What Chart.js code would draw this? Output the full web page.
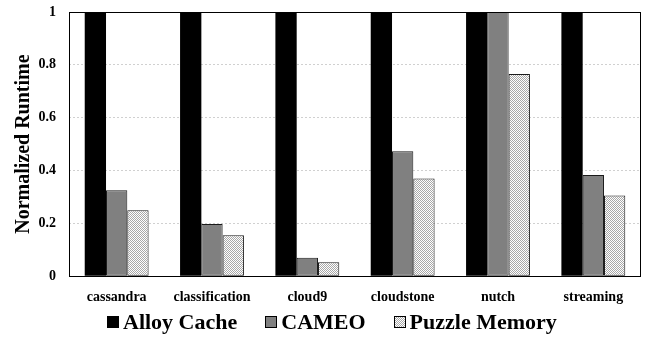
<!DOCTYPE html>
<html>
<head>
<meta charset="utf-8">
<script src="https://cdn.jsdelivr.net/npm/chart.js@4.4.0/dist/chart.umd.min.js"></script>
<style>
  html, body { margin: 0; padding: 0; background: #fff; }
  #wrap { position: relative; width: 650px; height: 337px; }
  #legend {
    position: absolute; left: 107px; top: 311px;
    display: flex; align-items: center;
    font-family: "Liberation Serif", "Times New Roman", serif;
    font-weight: bold; font-size: 22px; line-height: 22px; color: #000;
  }
  .item { display: flex; align-items: center; margin-right: 28px; }
  .sw { width: 12px; height: 12px; border: 1px solid #000; margin-right: 4px; box-sizing: border-box; }
</style>
</head>
<body>
<div id="wrap">
  <canvas id="c" width="650" height="337"></canvas>
  <div id="legend"></div>
</div>
<script>
const categories = ["cassandra", "classification", "cloud9", "cloudstone", "nutch", "streaming"];
const alloyCache = [1, 1, 1, 1, 1, 1];
const cameo = [0.325, 0.198, 0.07, 0.473, 1, 0.383];
const puzzleMemory = [0.25, 0.155, 0.053, 0.37, 0.765, 0.305];
const yTicks = [0, 0.2, 0.4, 0.6, 0.8, 1];

// fine dithered fill for the third series
function ditherPattern() {
  const p = document.createElement('canvas');
  p.width = 2; p.height = 2;
  const g = p.getContext('2d');
  g.fillStyle = '#ffffff'; g.fillRect(0, 0, 2, 2);
  g.fillStyle = '#a8a8a8'; g.fillRect(0, 0, 1, 1); g.fillRect(1, 1, 1, 1);
  return document.getElementById('c').getContext('2d').createPattern(p, 'repeat');
}
const dither = ditherPattern();

const seriesStyle = [
  { label: "Alloy Cache", data: alloyCache, backgroundColor: '#000000', borderColor: '#000000', borderWidth: 0, swatch: '#000' },
  { label: "CAMEO", data: cameo, backgroundColor: '#808080', borderColor: '#1a1a1a', borderWidth: 1, swatch: '#808080' },
  { label: "Puzzle Memory", data: puzzleMemory, backgroundColor: dither, borderColor: '#1a1a1a', borderWidth: 1,
    swatch: 'repeating-conic-gradient(#a8a8a8 0 25%, #fff 0 50%) 0 0/2px 2px' }
];

const frame = {
  id: 'frame',
  afterDatasetsDraw(chart) {
    const a = chart.chartArea, ctx = chart.ctx;
    ctx.save();
    ctx.strokeStyle = '#000';
    ctx.lineWidth = 1;
    ctx.strokeRect(Math.round(a.left) + 0.5, Math.round(a.top) + 0.5,
                   Math.round(a.right - a.left) - 1, Math.round(a.bottom - a.top));
    ctx.restore();
  }
};

const serif = "'Liberation Serif', 'Times New Roman', serif";

new Chart(document.getElementById('c'), {
  type: 'bar',
  data: {
    labels: categories,
    datasets: seriesStyle.map(s => ({
      label: s.label, data: s.data, backgroundColor: s.backgroundColor,
      borderColor: s.borderColor, borderWidth: s.borderWidth, borderSkipped: false,
      categoryPercentage: 0.67, barPercentage: 1.0
    }))
  },
  options: {
    responsive: false,
    animation: false,
    layout: { padding: { top: 12, right: 9, bottom: 26, left: 0 } },
    plugins: { legend: { display: false }, tooltip: { enabled: false } },
    scales: {
      x: {
        grid: { display: false },
        border: { display: false },
        ticks: { color: '#000', font: { family: serif, weight: 'bold', size: 14 }, padding: 5 }
      },
      y: {
        min: 0, max: 1,
        afterBuildTicks(scale) { scale.ticks = yTicks.map(v => ({ value: v })); },
        afterFit(scale) { scale.width = 69; scale.paddingTop = 0; scale.paddingBottom = 0; },
        grid: { color: '#d0d0d0', lineWidth: 1, drawTicks: false },
        border: { display: false, dash: [2, 2] },
        ticks: { color: '#000', font: { family: serif, weight: 'bold', size: 14 }, padding: 13,
                 callback: v => String(v) },
        title: { display: true, text: 'Normalized Runtime', color: '#000',
                 font: { family: serif, weight: 'bold', size: 20 }, padding: { top: 12, bottom: 0 } }
      }
    }
  },
  plugins: [frame]
});

const legend = document.getElementById('legend');
seriesStyle.forEach(s => {
  const item = document.createElement('div');
  item.className = 'item';
  const sw = document.createElement('span');
  sw.className = 'sw';
  sw.style.background = s.swatch;
  const t = document.createElement('span');
  t.textContent = s.label;
  item.appendChild(sw); item.appendChild(t);
  legend.appendChild(item);
});
</script>
</body>
</html>
